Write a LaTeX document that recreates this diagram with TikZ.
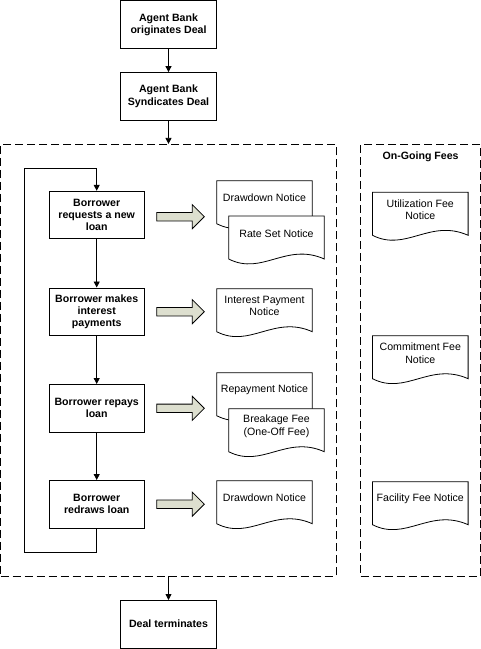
\documentclass[tikz,border=0pt]{standalone}
\usepackage{fontspec}
\setmainfont{Liberation Sans}
\usetikzlibrary{arrows.meta}
\definecolor{arrowfill}{RGB}{221,223,207}
\newcommand{\docnode}[4]{%
  \path[draw,fill=white] (#2,#3) -- ++(95.6,0) -- ++(0,43)
    .. controls ++(-0.4*95.6,-17) and ++(0.35*95.6,17) .. ++(-95.6,0) -- cycle;
  \node[doctext] (#1) at ({#2+47.8},{#3+17.5}) {#4};
}
\newcommand{\bigarrow}[1]{%
  \path[draw,fill=arrowfill] (156.7,#1-4.2) -- (192.3,#1-4.2) -- (192.3,#1-12)
    -- (204.3,#1) -- (192.3,#1+12) -- (192.3,#1+4.2) -- (156.7,#1+4.2) -- cycle;
}
\begin{document}
\begin{tikzpicture}[x=1pt,y=-1pt,line width=0.8pt,
  every node/.style={font=\fontsize{10.6}{12.3}\selectfont},
  procbox/.style={draw,fill=white,minimum width=95.6pt,minimum height=47.6pt,
    align=center,inner sep=2pt,font=\fontsize{10.6}{12.3}\selectfont\bfseries},
  doctext/.style={align=center,inner sep=0pt,font=\fontsize{10.6}{12.3}\selectfont},
  dashbox/.style={draw,dash pattern=on 8pt off 4pt,inner sep=0pt},
  flow/.style={-{Triangle[length=6pt,width=6pt]}}]
\useasboundingbox (0,0) rectangle (481,649);
\fill[white] (0,0) rectangle (481,649);
% dashed containers
\node[dashbox,minimum width=335.4pt,minimum height=431.7pt] (main) at (168.3,360.15) {};
\node[dashbox,minimum width=119.8pt,minimum height=431.7pt] (fees) at (420.6,360.15) {};
\node[font=\fontsize{10.6}{12.3}\selectfont\bfseries] (feestitle) at (420.6,156.7) {On-Going Fees};
% process boxes
\node[procbox] (b1) at (168.5,24.5) {Agent Bank\\originates Deal};
\node[procbox] (b2) at (168.5,96.3) {Agent Bank\\Syndicates Deal};
\node[procbox] (b3) at (96.7,215) {Borrower\\requests a new\\loan};
\node[procbox] (b4) at (96.7,311.7) {Borrower makes\\interest\\payments};
\node[procbox] (b5) at (96.7,408.2) {Borrower repays\\loan};
\node[procbox] (b6) at (96.7,504.2) {Borrower\\redraws loan};
\node[procbox] (b7) at (168.5,624.2) {Deal terminates};
% connectors
\draw[flow] (b1) -- (b2);
\draw[flow] (b2.south) -- (b2.south |- main.north);
\draw[flow] (b3) -- (b4);
\draw[flow] (b4) -- (b5);
\draw[flow] (b5) -- (b6);
\draw[flow] (main.south -| b7) -- (b7);
\coordinate (lb) at (24.3,552.3);
\coordinate (lt) at (24.3,168.7);
\draw[flow] (b6.south) -- (b6.south |- lb) -- (lb) -- (lt) -- (lt -| b3.north) -- (b3.north);
% block arrows
\bigarrow{216.7}
\bigarrow{311.7}
\bigarrow{408.3}
\bigarrow{504.2}
% documents
\docnode{d1}{216.7}{180.7}{Drawdown Notice}
\docnode{d2}{228.7}{216}{Rate Set Notice}
\docnode{d3}{216.7}{288.7}{Interest Payment\\Notice}
\docnode{d4}{216.7}{372.7}{Repayment Notice}
\docnode{d5}{228.7}{408.7}{Breakage Fee\\(One-Off Fee)}
\docnode{d6}{216.7}{480.7}{Drawdown Notice}
\docnode{f1}{372.5}{192.3}{Utilization Fee\\Notice}
\docnode{f2}{372.5}{335.7}{Commitment Fee\\Notice}
\docnode{f3}{372.5}{481.7}{Facility Fee Notice}
\end{tikzpicture}
\end{document}
